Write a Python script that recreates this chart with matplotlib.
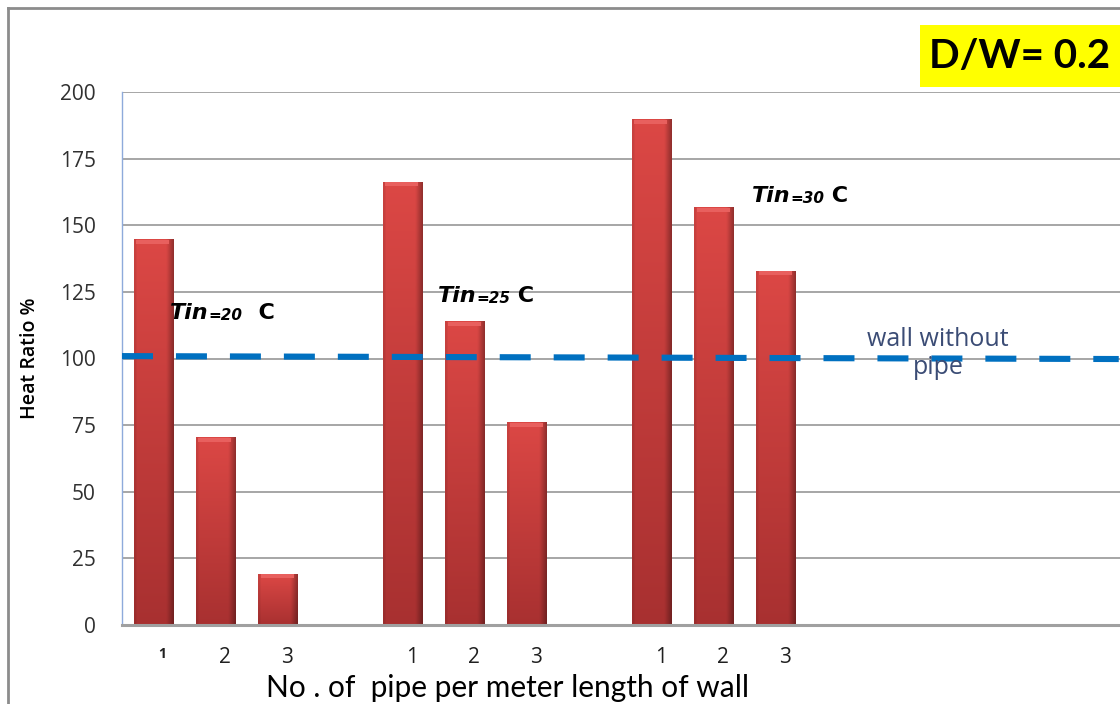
import numpy as np
import matplotlib
matplotlib.use('Agg')
import matplotlib.pyplot as plt
from matplotlib.patches import Rectangle
from matplotlib.lines import Line2D

#------------------------------------------------------------------
# data
tin_labels = ['20', '25', '30']                 # inlet temperature per group
pipes = ['1', '2', '3']                         # no. of pipe per meter
heat_ratio = [[144.5, 70.2, 19.1],              # Tin = 20 C
              [166.2, 113.7, 75.8],             # Tin = 25 C
              [189.5, 156.5, 132.8]]            # Tin = 30 C
baseline_x = [-0.5, 15.5]                       # wall without pipe
baseline_y = [100.9, 99.8]
title_txt = 'D/W= 0.2'

#------------------------------------------------------------------
W, H = 1120, 704
fig = plt.figure(figsize=(W / 100, H / 100), dpi=100)
fig.patch.set_facecolor('white')

ax = fig.add_axes([122 / W, (H - 625) / H, (W - 122) / W, 533 / H])

# grid
ax.yaxis.grid(True, color='#a6a6a6', lw=1.4)
ax.set_axisbelow(True)
for s in ['top', 'right']:
    ax.spines[s].set_visible(False)
ax.spines['left'].set_color('#8eaadb')
ax.spines['left'].set_linewidth(1)
ax.spines['bottom'].set_color('#a0a0a0')
ax.spines['bottom'].set_linewidth(2.2)
ax.tick_params(length=0)

# bar gradient (vertical + darker right edge)
ny, nx = 64, 32
top = np.array([0.86, 0.28, 0.27])
bot = np.array([0.66, 0.19, 0.19])
t = np.linspace(0, 1, ny)[:, None, None]
grad = top * (1 - t) + bot * t
u = np.linspace(0, 1, nx)
shade = np.ones(nx)
shade[u > 0.82] = 1 - (u[u > 0.82] - 0.82) * 1.8
shade[u < 0.06] = 0.92
grad = grad * shade[None, :, None]

bar_w = 0.63
xpos, heights, labels = [], [], []
for g, vals in enumerate(heat_ratio):
    for i, v in enumerate(vals):
        x = g * 4 + i
        xpos.append(x)
        heights.append(v)
        labels.append(pipes[i])

bars = ax.bar(xpos, heights, width=bar_w, color='#c23b3a', zorder=2)
for b in bars:
    x0, w, h = b.get_x(), b.get_width(), b.get_height()
    ax.imshow(grad, extent=[x0, x0 + w, 0, h], aspect='auto',
              interpolation='bilinear', zorder=2.1)
    # light top bevel
    ax.add_patch(Rectangle((x0 + 0.04, h - 1.6), w - 0.1, 1.6, color='#e8605e', lw=0, zorder=2.2))
ax.set_xlim(-0.5, 15.52)
ax.set_ylim(0, 200)

# dashed reference line
ax.plot(baseline_x, baseline_y, color='#0070c0', lw=4.4,
        dashes=(5.07, 3.76), solid_capstyle='butt', zorder=3)
ax.text(12.6, 102.0, 'wall without\npipe', ha='center', va='center',
        color='#3b4c75', fontsize=18, family='Open Sans', linespacing=1.15, zorder=4)

# tick labels
ax.set_yticks(np.arange(0, 201, 25))
ax.set_yticklabels([str(v) for v in range(0, 201, 25)], family='Open Sans',
                   fontsize=15, color='#303030')
ax.tick_params(axis='y', pad=19)
ax.set_xticks([x + 0.15 for x in xpos])
ax.set_xticklabels(labels, family='Open Sans', fontsize=15, color='#202020')
ax.tick_params(axis='x', pad=16)
ax.get_xticklabels()[0].set_fontsize(10)
ax.get_xticklabels()[0].set_fontweight('bold')

ax.set_ylabel('Heat Ratio %', family='Open Sans', fontsize=14, fontweight='semibold',
              labelpad=14)
ax.set_xlabel('No . of  pipe per meter length of wall', family='Lato',
              fontsize=21.5, labelpad=0)
ax.xaxis.label.set_va('center')
ax.xaxis.set_label_coords((508 - 122) / (W - 122), -(688 - 625) / 533)

# Tin annotations
tin_pos = [(0.27, 114.8, '  '), (4.57, 121.2, ' '), (9.61, 158.7, ' ')]
for (x, y, gap), tl in zip(tin_pos, tin_labels):
    t1 = ax.text(x, y, 'Tin', fontsize=16, fontweight='bold', style='italic',
                 family='DejaVu Sans', va='baseline', zorder=4)
    t2 = ax.annotate('=' + tl, xy=(1, 0), xycoords=t1, va='bottom',
                     fontsize=11, fontweight='bold', style='italic', family='DejaVu Sans')
    ax.annotate(gap + 'C', xy=(1, 0), xycoords=t2, va='bottom',
                fontsize=16, fontweight='bold', family='DejaVu Sans')

# outer frame
fig.add_artist(Line2D([8 / W, 1], [1 - 8 / H, 1 - 8 / H], color='#8c8c8c', lw=2,
                      transform=fig.transFigure))
fig.add_artist(Line2D([8 / W, 8 / W], [0, 1 - 8 / H], color='#8c8c8c', lw=2,
                      transform=fig.transFigure))

# title box
fig.add_artist(Rectangle((920 / W, (H - 87) / H), 200 / W, 62 / H, color='#ffff00',
                         transform=fig.transFigure, lw=0))
fig.text(929 / W, (H - 56) / H, title_txt, fontsize=29, fontweight='bold',
         family='Lato', va='center', ha='left')

fig.savefig('out.png', dpi=100)
